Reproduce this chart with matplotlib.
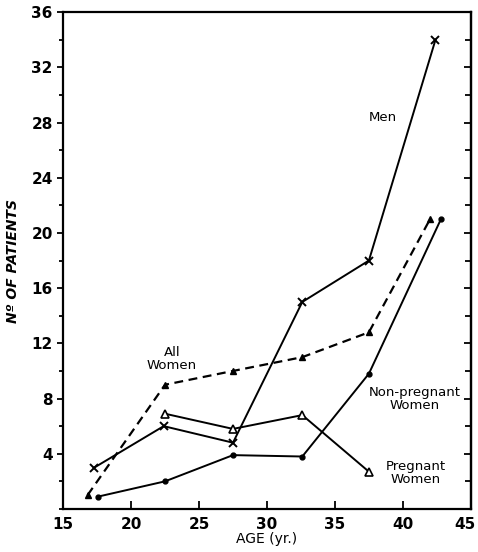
import matplotlib
matplotlib.use("Agg")
import matplotlib.pyplot as plt
import matplotlib.transforms as mtransforms
from matplotlib.ticker import MultipleLocator

# age group midpoints (yr.) and patient counts
men_age = [17.3, 22.4, 27.5, 32.6, 37.5, 42.4]
men = [3.0, 6.0, 4.8, 15.0, 18.0, 34.0]

all_age = [16.8, 22.5, 27.5, 32.6, 37.5, 42.0]
all_women = [1.0, 9.0, 10.0, 11.0, 12.8, 21.0]

preg_age = [22.5, 27.5, 32.6, 37.5]
pregnant = [6.9, 5.8, 6.8, 2.7]

nonpreg_age = [17.6, 22.5, 27.5, 32.6, 37.5, 42.8]
non_pregnant = [0.9, 2.0, 3.9, 3.8, 9.8, 21.0]

xticks = [15, 20, 25, 30, 35, 40, 45]
yticks = [4, 8, 12, 16, 20, 24, 28, 32, 36]

fig = plt.figure(figsize=(4.78, 5.52), dpi=100)
ax = fig.add_axes([0.132, 0.078, 0.853, 0.9])

ax.plot(men_age, men, color="black", lw=1.4, marker="x", ms=6, mew=1.4)
ax.plot(all_age, all_women, color="black", lw=1.6, ls=(0, (4, 2.5)),
        marker="^", ms=4.5)
ax.plot(preg_age, pregnant, color="black", lw=1.4, marker="^", ms=6,
        mfc="white", mew=1.2)
ax.plot(nonpreg_age, non_pregnant, color="black", lw=1.4, marker="o", ms=3.5)

txt = dict(fontsize=9.5, ha="center", va="center", family="DejaVu Sans")
ax.text(38.5, 28.4, "Men", **txt)
ax.text(23.0, 10.9, "All\nWomen", linespacing=1.0, **txt)
ax.text(40.9, 8.0, "Non-pregnant\nWomen", linespacing=1.0, **txt)
ax.text(40.95, 2.6, "Pregnant\nWomen", linespacing=1.0, **txt)

ax.set_xlim(15, 45)
ax.set_ylim(0, 36)
ax.set_xticks(xticks)
ax.set_yticks(yticks)
ax.yaxis.set_minor_locator(MultipleLocator(2))

ax.tick_params(axis="x", direction="in", length=6, width=1.3, labelsize=11, pad=6)
ax.tick_params(axis="y", which="both", direction="out", length=4, width=1.3,
               labelsize=11)
ax.tick_params(axis="y", which="minor", length=3)
for lab in ax.get_xticklabels() + ax.get_yticklabels():
    lab.set_fontweight("bold")
# the last x label sits on the figure edge; nudge it inside
last = ax.get_xticklabels()[-1]
last.set_transform(last.get_transform() +
                   mtransforms.ScaledTranslation(-4 / 72, 0, fig.dpi_scale_trans))

# right side ticks point inward
rax = ax.secondary_yaxis("right")
rax.set_yticks(yticks)
rax.yaxis.set_minor_locator(MultipleLocator(2))
rax.tick_params(which="both", direction="in", length=5, width=1.3,
                labelright=False)
rax.tick_params(which="minor", length=4)

for s in ax.spines.values():
    s.set_linewidth(1.6)
rax.spines["right"].set_linewidth(1.6)

ax.set_xlabel("AGE (yr.)", fontsize=10, labelpad=0)
ax.set_ylabel("Nº OF PATIENTS", fontsize=10, fontstyle="italic",
              fontweight="bold", labelpad=8)

fig.savefig("out.png", dpi=100)
